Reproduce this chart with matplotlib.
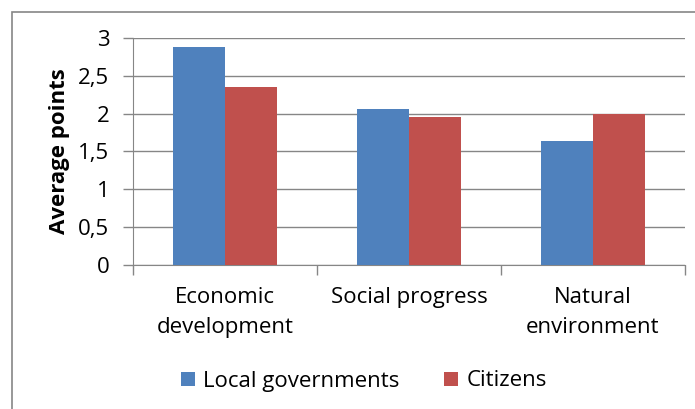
import matplotlib
matplotlib.use('Agg')
import matplotlib.pyplot as plt
from matplotlib.patches import Rectangle
import numpy as np

categories = ['Economic\ndevelopment', 'Social progress', 'Natural\nenvironment']
local_gov = [2.88, 2.06, 1.64]
citizens = [2.35, 1.95, 1.99]
y_ticks = [0, 0.5, 1, 1.5, 2, 2.5, 3]
y_labels = ['0', '0,5', '1', '1,5', '2', '2,5', '3']

plt.rcParams['font.family'] = ['Open Sans', 'DejaVu Sans']

fig = plt.figure(figsize=(6.95, 4.09), dpi=100)
ax = fig.add_axes([0.1914, 0.3533, 0.7942, 0.5531])

grid_col = '#868686'
ind = np.arange(len(categories))
width = 0.284
ax.bar(ind - width / 2, local_gov, width, color='#4F81BD', label='Local governments', zorder=3)
ax.bar(ind + width / 2, citizens, width, color='#C0504D', label='Citizens', zorder=3)

ax.set_xlim(-0.5, len(categories) - 0.5)
ax.set_ylim(0, 3)
ax.set_yticks(y_ticks)
ax.set_yticklabels(y_labels, fontsize=16)
ax.set_xticks(ind)
ax.set_xticklabels(categories, fontsize=16, linespacing=1.6)
ax.set_xticks(np.arange(len(categories) + 1) - 0.5, minor=True)
ax.tick_params(axis='x', which='major', length=0, pad=16)
ax.tick_params(axis='x', which='minor', length=7, color=grid_col, width=1)
ax.tick_params(axis='y', length=7, color=grid_col, width=1, pad=10)
ax.yaxis.grid(True, color=grid_col, linewidth=1, zorder=0)

for side in ['top', 'right']:
    ax.spines[side].set_visible(False)
ax.spines['left'].set_color(grid_col)
ax.spines['bottom'].set_color(grid_col)

ax.set_ylabel('Average points', fontsize=16, fontweight='bold', labelpad=6)

fig.legend(loc='center', bbox_to_anchor=(364 / 695, 1 - 381 / 409), ncol=2,
           frameon=False, fontsize=16, handlelength=0.6, handleheight=0.6,
           handletextpad=0.4, columnspacing=2.0)

# outer chart frame (only top and left edges visible)
fig.patches.append(Rectangle((11.7 / 695, -0.5), 2, 0.5 + 1 - 11.7 / 409,
                             transform=fig.transFigure, fill=False,
                             edgecolor=grid_col, linewidth=1.2))

fig.savefig('out.png', dpi=100)
